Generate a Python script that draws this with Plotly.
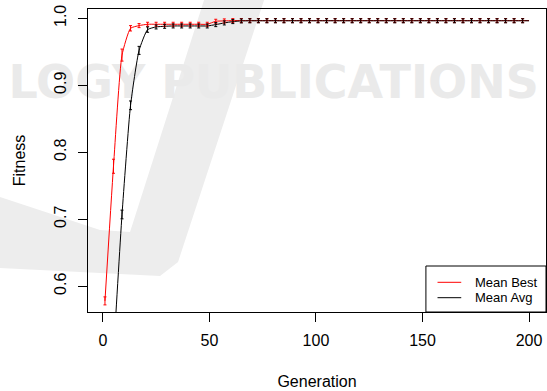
import plotly.graph_objects as go

# ---- data ----
gens = [1, 5, 9, 13, 17, 21, 25, 29, 33, 37, 41, 45, 49, 53, 57, 61, 65, 69, 73, 77,
        81, 85, 89, 93, 97, 101, 105, 109, 113, 117, 121, 125, 129, 133, 137, 141, 145,
        149, 153, 157, 161, 165, 169, 173, 177, 181, 185, 189, 193, 197, 200]

mean_best = [0.578, 0.779, 0.945, 0.985, 0.989, 0.991, 0.991, 0.991, 0.991, 0.991,
             0.991, 0.991, 0.991, 0.9955, 0.996, 0.9965, 0.9965, 0.9965, 0.9965, 0.9965,
             0.9965, 0.9965, 0.9965, 0.9965, 0.9965, 0.9965, 0.9965, 0.9965, 0.9965, 0.9965,
             0.9965, 0.9965, 0.9965, 0.9965, 0.9965, 0.9965, 0.9965, 0.9965, 0.9965, 0.9965,
             0.9965, 0.9965, 0.9965, 0.9965, 0.9965, 0.9965, 0.9965, 0.9965, 0.9965, 0.9965,
             0.9965]
best_err = [0.006, 0.0105, 0.009, 0.004, 0.003, 0.003, 0.003, 0.003, 0.003, 0.003,
            0.003, 0.003, 0.003, 0.003, 0.003, 0.003, 0.003, 0.003, 0.003, 0.003,
            0.003, 0.003, 0.003, 0.003, 0.003, 0.003, 0.003, 0.003, 0.003, 0.003,
            0.003, 0.003, 0.003, 0.003, 0.003, 0.003, 0.003, 0.003, 0.003, 0.003,
            0.003, 0.003, 0.003, 0.003, 0.003, 0.003, 0.003, 0.003, 0.003, 0.003]

mean_avg = [0.30, 0.50, 0.707, 0.870, 0.952, 0.983, 0.987, 0.988, 0.9885, 0.9885,
            0.9885, 0.9885, 0.9885, 0.9905, 0.993, 0.995, 0.996, 0.9962, 0.9962, 0.9962,
            0.9962, 0.9962, 0.9962, 0.9962, 0.9962, 0.9962, 0.9962, 0.9962, 0.9962, 0.9962,
            0.9962, 0.9962, 0.9962, 0.9962, 0.9962, 0.9962, 0.9962, 0.9962, 0.9962, 0.9962,
            0.9962, 0.9962, 0.9962, 0.9962, 0.9962, 0.9962, 0.9962, 0.9962, 0.9962, 0.9962,
            0.9962]
avg_err = [0.01, 0.01, 0.0065, 0.0065, 0.006, 0.004, 0.003, 0.003, 0.003, 0.003,
           0.003, 0.003, 0.003, 0.003, 0.003, 0.003, 0.003, 0.003, 0.003, 0.003,
           0.003, 0.003, 0.003, 0.003, 0.003, 0.003, 0.003, 0.003, 0.003, 0.003,
           0.003, 0.003, 0.003, 0.003, 0.003, 0.003, 0.003, 0.003, 0.003, 0.003,
           0.003, 0.003, 0.003, 0.003, 0.003, 0.003, 0.003, 0.003, 0.003, 0.003]

series_names = ["Mean Best", "Mean Avg"]
series_colors = ["#ff0000", "#000000"]

x_ticks = [0, 50, 100, 150, 200]
y_ticks = [0.6, 0.7, 0.8, 0.9, 1.0]
y_ticktext = ["0.6", "0.7", "0.8", "0.9", "1.0"]

FONT = "Liberation Sans, Arial, Helvetica, sans-serif"
W, H = 547, 391
# plot-area edges in pixels
PL, PR, PT, PB = 88, 545.7, 9, 312


def px(x):
    return (x - PL) / (PR - PL)


def py(y):
    return (PB - y) / (PB - PT)


fig = go.Figure()

# lines
for vals, name, col in zip([mean_best, mean_avg], series_names, series_colors):
    fig.add_trace(go.Scatter(x=gens, y=vals, mode="lines", name=name, showlegend=False,
                             line=dict(color=col, width=1, shape="spline", smoothing=0.5)))

# error bars (every 4th generation)
n = len(best_err)
for vals, errs, col in zip([mean_best, mean_avg], [best_err, avg_err], series_colors):
    fig.add_trace(go.Scatter(x=gens[:n], y=vals[:n], mode="markers", showlegend=False,
                             marker=dict(size=1, color=col, opacity=0),
                             error_y=dict(type="data", array=errs, visible=True,
                                          color=col, thickness=1, width=1.5)))

# faint publisher watermark behind the chart
WM = "#ededed"
band = [(204, 0), (264, 0), (178, 262), (160, 276), (0, 268), (0, 197),
        (100, 230), (130, 232)]
path = "M " + " L ".join(f"{px(a):.4f},{py(b):.4f}" for a, b in band) + " Z"
shapes = [
    dict(type="path", xref="paper", yref="paper", path=path, fillcolor=WM,
         line=dict(width=0), layer="below"),
    dict(type="rect", xref="paper", yref="paper", x0=px(0), x1=px(547),
         y0=py(100), y1=py(58), line=dict(width=0), fillcolor="rgba(0,0,0,0)",
         layer="below",
         label=dict(text="<b>LOGY PUBLICATIONS</b>", textposition="middle center",
                    font=dict(family="DejaVu Sans", size=46, color="#eaeaea"))),
]

# R-style legend box (bottom right)
annotations = []
shapes.append(dict(type="rect", xref="paper", yref="paper",
                   x0=px(425.7), x1=1, y0=0, y1=py(266),
                   fillcolor="white", line=dict(color="black", width=1), layer="above"))
for i, (name, col) in enumerate(zip(series_names, series_colors)):
    ly = 282.3 + i * 15.4
    shapes.append(dict(type="line", xref="paper", yref="paper",
                       x0=px(437.3), x1=px(461), y0=py(ly), y1=py(ly),
                       line=dict(color=col, width=1), layer="above"))
    annotations.append(dict(xref="paper", yref="paper", x=px(472.3), y=py(ly),
                            xanchor="left", yanchor="middle", text=name,
                            showarrow=False,
                            font=dict(family=FONT, size=13, color="black")))

fig.update_layout(
    width=W, height=H,
    margin=dict(l=PL, r=W - PR, t=PT, b=H - PB),
    paper_bgcolor="white", plot_bgcolor="rgba(0,0,0,0)",
    font=dict(family=FONT, size=16, color="black"),
    shapes=shapes, annotations=annotations,
    showlegend=False,
)

fig.update_xaxes(range=[-6.96, 207.96], tickvals=x_ticks, ticks="outside", ticklen=9,
                 tickcolor="black", showline=True, linecolor="black", linewidth=1,
                 mirror=True, showgrid=False, zeroline=False, ticklabelstandoff=5,
                 tickfont=dict(family=FONT, size=16),
                 title=dict(text="Generation", font=dict(family=FONT, size=16), standoff=27))
fig.update_yaxes(range=[0.5614, 1.0138], tickvals=y_ticks, ticktext=y_ticktext,
                 ticks="outside", ticklen=9, tickangle=-90,
                 tickcolor="black", showline=True, linecolor="black", linewidth=1,
                 mirror=True, showgrid=False, zeroline=False, ticklabelstandoff=6,
                 tickfont=dict(family=FONT, size=16),
                 title=dict(text="Fitness", font=dict(family=FONT, size=16), standoff=21))

fig.write_html("out.html", config={"displayModeBar": False},
               post_script="document.body.style.margin='0';"
                           "document.body.style.overflow='hidden';")
